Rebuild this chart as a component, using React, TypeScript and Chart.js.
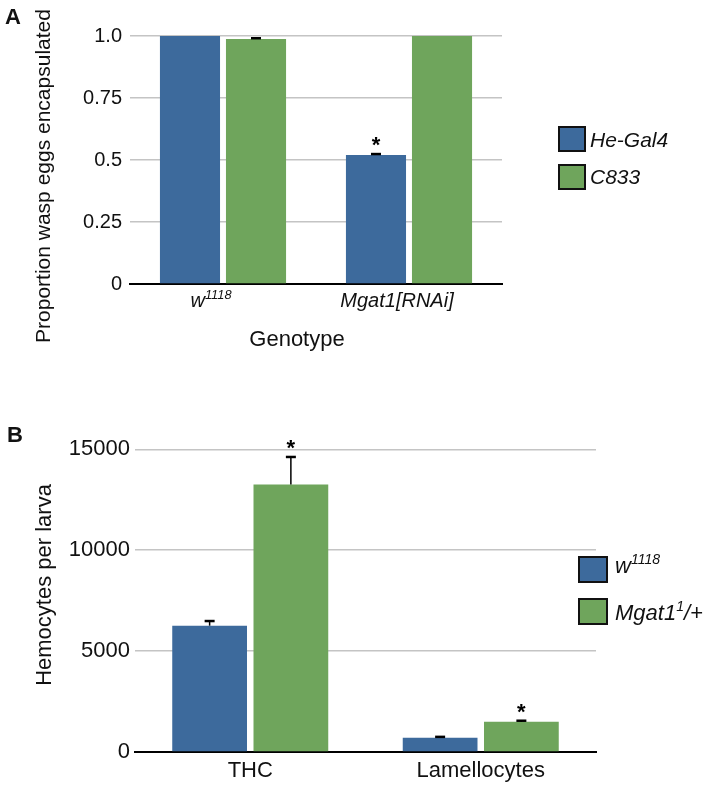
import React, { useEffect, useRef } from "react";
import { Chart, registerables } from "chart.js";

Chart.register(...registerables);

const FONT = '"Liberation Sans", Arial, Helvetica, sans-serif';

// ---------- Panel A data ----------
const genotypes = ["w^{1118}", "Mgat1[RNAi]"];
const seriesA = ["He-Gal4", "C833"];
const heGal4 = [1.0, 0.52];
const heGal4Err = [0, 0.004];
const heGal4Sig = [false, true];
const c833 = [0.988, 1.0];
const c833Err = [0.003, 0];
const c833Sig = [false, false];
const ticksA = [0, 0.25, 0.5, 0.75, 1.0];
const tickLabelsA = ["0", "0.25", "0.5", "0.75", "1.0"];
const titleAY = "Proportion wasp eggs encapsulated";
const titleAX = "Genotype";

// ---------- Panel B data ----------
const cellTypes = ["THC", "Lamellocytes"];
const seriesB = ["w^{1118}", "Mgat1^{1}/+"];
const w1118Counts = [6260, 700];
const w1118Err = [230, 50];
const w1118Sig = [false, false];
const mgat1Counts = [13250, 1500];
const mgat1Err = [1370, 50];
const mgat1Sig = [true, true];
const ticksB = [0, 5000, 10000, 15000];
const titleBY = "Hemocytes per larva";

const BLUE = "#3d6a9c";
const GREEN = "#6fa55c";
const TEXT = "#111111";
const GRID = "#c4c4c4";

type Part = { t: string; sup: boolean };
function parseRich(s: string): Part[] {
  const parts: Part[] = [];
  const re = /\^\{([^}]*)\}/g;
  let last = 0;
  let m: RegExpExecArray | null;
  while ((m = re.exec(s))) {
    if (m.index > last) parts.push({ t: s.slice(last, m.index), sup: false });
    parts.push({ t: m[1], sup: true });
    last = re.lastIndex;
  }
  if (last < s.length) parts.push({ t: s.slice(last), sup: false });
  return parts;
}

function drawRich(
  ctx: CanvasRenderingContext2D,
  s: string,
  x: number,
  y: number,
  size: number,
  style: string,
  align: "left" | "center"
) {
  const parts = parseRich(s);
  const supSize = size * 0.64;
  const fontFor = (p: Part) => `${style} ${p.sup ? supSize : size}px ${FONT}`;
  const widths = parts.map((p) => {
    ctx.font = fontFor(p);
    return ctx.measureText(p.t).width;
  });
  const total = widths.reduce((a, b) => a + b, 0);
  let cx = align === "center" ? x - total / 2 : x;
  ctx.textAlign = "left";
  ctx.textBaseline = "alphabetic";
  parts.forEach((p, i) => {
    ctx.font = fontFor(p);
    ctx.fillText(p.t, cx, p.sup ? y - size * 0.42 : y);
    cx += widths[i];
  });
}

function drawErrorBars(chart: any, errs: number[][], sigs: boolean[][]) {
  const ctx: CanvasRenderingContext2D = chart.ctx;
  const yScale = chart.scales.y;
  ctx.save();
  ctx.strokeStyle = "#000";
  ctx.fillStyle = "#000";
  chart.data.datasets.forEach((ds: any, di: number) => {
    const meta = chart.getDatasetMeta(di);
    meta.data.forEach((el: any, i: number) => {
      const v = ds.data[i] as number;
      const e = errs[di][i];
      const top = yScale.getPixelForValue(v + e);
      if (e > 0) {
        ctx.lineWidth = 1.5;
        ctx.beginPath();
        ctx.moveTo(el.x, el.y);
        ctx.lineTo(el.x, top);
        ctx.stroke();
        ctx.lineWidth = 2.5;
        ctx.beginPath();
        ctx.moveTo(el.x - 5, top);
        ctx.lineTo(el.x + 5, top);
        ctx.stroke();
      }
      if (sigs[di][i]) {
        ctx.font = `bold 22px ${FONT}`;
        ctx.textAlign = "center";
        ctx.textBaseline = "alphabetic";
        ctx.fillText("*", el.x, top - 2);
      }
    });
  });
  ctx.restore();
}

function drawLegend(
  ctx: CanvasRenderingContext2D,
  labels: string[],
  colors: string[],
  x: number,
  ys: number[],
  w: number,
  h: number,
  textX: number,
  baselines: number[],
  size: number
) {
  ctx.save();
  labels.forEach((lab, i) => {
    ctx.fillStyle = colors[i];
    ctx.fillRect(x, ys[i], w, h);
    ctx.strokeStyle = "#111";
    ctx.lineWidth = 2;
    ctx.strokeRect(x, ys[i], w, h);
    ctx.fillStyle = TEXT;
    drawRich(ctx, lab, textX, baselines[i], size, "italic", "left");
  });
  ctx.restore();
}

function drawRotated(ctx: CanvasRenderingContext2D, text: string, cx: number, cy: number, size: number) {
  ctx.save();
  ctx.translate(cx, cy);
  ctx.rotate(-Math.PI / 2);
  ctx.font = `${size}px ${FONT}`;
  ctx.fillStyle = TEXT;
  ctx.textAlign = "center";
  ctx.textBaseline = "middle";
  ctx.fillText(text, 0, 0);
  ctx.restore();
}

const overlayA = {
  id: "overlayA",
  afterDatasetsDraw(chart: any) {
    drawErrorBars(chart, [heGal4Err, c833Err], [heGal4Sig, c833Sig]);
  },
  afterDraw(chart: any) {
    const ctx: CanvasRenderingContext2D = chart.ctx;
    ctx.save();
    ctx.fillStyle = TEXT;
    ctx.font = `bold 22px ${FONT}`;
    ctx.textAlign = "left";
    ctx.textBaseline = "alphabetic";
    ctx.fillText("A", 5, 24);
    const xs = chart.scales.x;
    genotypes.forEach((g, i) => {
      drawRich(ctx, g, xs.getPixelForValue(i) - 12, 307, 20, "italic", "center");
    });
    ctx.font = `22px ${FONT}`;
    ctx.textAlign = "center";
    ctx.fillText(titleAX, 297, 346);
    drawRotated(ctx, titleAY, 44, 176, 21);
    drawLegend(ctx, seriesA, [BLUE, GREEN], 559, [127, 165], 26, 24, 590, [147, 184], 21);
    ctx.restore();
  },
};

const overlayB = {
  id: "overlayB",
  afterDatasetsDraw(chart: any) {
    drawErrorBars(chart, [w1118Err, mgat1Err], [w1118Sig, mgat1Sig]);
  },
  afterDraw(chart: any) {
    const ctx: CanvasRenderingContext2D = chart.ctx;
    ctx.save();
    ctx.fillStyle = TEXT;
    ctx.font = `bold 22px ${FONT}`;
    ctx.textAlign = "left";
    ctx.textBaseline = "alphabetic";
    ctx.fillText("B", 7, 52);
    drawRotated(ctx, titleBY, 45, 195, 22);
    drawLegend(ctx, seriesB, [BLUE, GREEN], 579, [167, 209], 28, 25, 615, [183, 230], 22);
    ctx.restore();
  },
};

export default function App() {
  const refA = useRef<HTMLCanvasElement>(null);
  const refB = useRef<HTMLCanvasElement>(null);

  useEffect(() => {
    Chart.defaults.font.family = FONT;
    const chartA = new Chart(refA.current as HTMLCanvasElement, {
      type: "bar",
      data: {
        labels: genotypes,
        datasets: [
          { label: seriesA[0], data: heGal4, backgroundColor: BLUE, borderWidth: 0, categoryPercentage: 0.71, barPercentage: 0.91 },
          { label: seriesA[1], data: c833, backgroundColor: GREEN, borderWidth: 0, categoryPercentage: 0.71, barPercentage: 0.91 },
        ],
      },
      options: {
        responsive: false,
        animation: false,
        layout: { padding: { left: 30, right: 205, top: 36, bottom: 0 } },
        plugins: { legend: { display: false }, tooltip: { enabled: false } },
        scales: {
          x: {
            grid: { display: false, drawTicks: false },
            border: { display: true, color: "#000", width: 2 },
            ticks: { display: false },
            afterFit: (s: any) => {
              s.height = 106;
            },
          },
          y: {
            min: 0,
            max: 1,
            afterBuildTicks: (s: any) => {
              s.ticks = ticksA.map((v) => ({ value: v }));
            },
            ticks: {
              callback: (v: any) => tickLabelsA[ticksA.indexOf(Number(v))],
              font: { size: 20, family: FONT },
              color: TEXT,
              padding: 8,
            },
            grid: { color: GRID, lineWidth: 1.5, drawTicks: false },
            border: { display: false },
            afterFit: (s: any) => {
              s.width = 100;
            },
          },
        },
      } as any,
      plugins: [overlayA],
    });

    const chartB = new Chart(refB.current as HTMLCanvasElement, {
      type: "bar",
      data: {
        labels: cellTypes,
        datasets: [
          { label: seriesB[0], data: w1118Counts, backgroundColor: BLUE, borderWidth: 0, categoryPercentage: 0.705, barPercentage: 0.92 },
          { label: seriesB[1], data: mgat1Counts, backgroundColor: GREEN, borderWidth: 0, categoryPercentage: 0.705, barPercentage: 0.92 },
        ],
      },
      options: {
        responsive: false,
        animation: false,
        layout: { padding: { left: 0, right: 111, top: 59.3, bottom: 0 } },
        plugins: { legend: { display: false }, tooltip: { enabled: false } },
        scales: {
          x: {
            grid: { display: false, drawTicks: false },
            border: { display: true, color: "#000", width: 2 },
            ticks: { font: { size: 22, family: FONT }, color: TEXT, padding: 6 },
            afterFit: (s: any) => {
              s.height = 36;
            },
          },
          y: {
            min: 0,
            max: 15000,
            afterBuildTicks: (s: any) => {
              s.ticks = ticksB.map((v) => ({ value: v }));
            },
            ticks: {
              callback: (v: any) => String(v),
              font: { size: 22, family: FONT },
              color: TEXT,
              padding: 5,
            },
            grid: { color: GRID, lineWidth: 1.5, drawTicks: false },
            border: { display: false },
            afterFit: (s: any) => {
              s.width = 135;
            },
          },
        },
      } as any,
      plugins: [overlayB],
    });

    return () => {
      chartA.destroy();
      chartB.destroy();
    };
  }, []);

  return (
    <div style={{ position: "absolute", left: 0, top: 0, width: 707, height: 788, background: "#fff" }}>
      <canvas ref={refA} width={707} height={390} style={{ position: "absolute", left: 0, top: 0 }} />
      <canvas ref={refB} width={707} height={398} style={{ position: "absolute", left: 0, top: 390 }} />
    </div>
  );
}
